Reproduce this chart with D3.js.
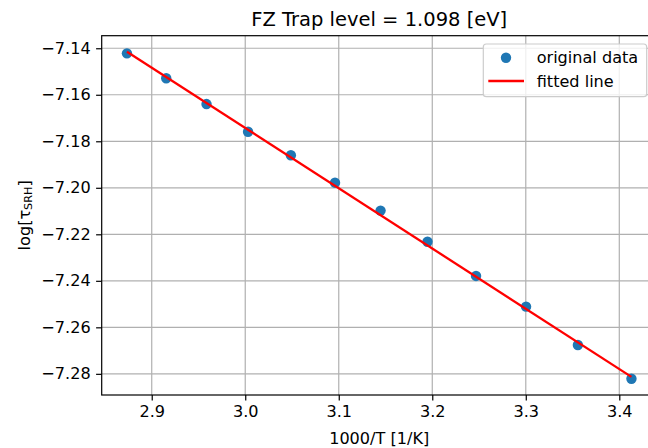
<!DOCTYPE html>
<html>
<head>
<meta charset="utf-8">
<script src="https://cdn.jsdelivr.net/npm/d3@7"></script>
<style>
  html, body { margin: 0; padding: 0; background: #fff; }
  svg { display: block; font-family: "DejaVu Sans", sans-serif; }
</style>
</head>
<body>
<svg id="chart" width="648" height="448"></svg>
<script>
// ---- data ----
const xValues = [2.8735, 2.9155, 2.9586, 3.0030, 3.0488, 3.0960, 3.1447, 3.1949, 3.2468, 3.3003, 3.3557, 3.4130];
const yValues = [-7.1422, -7.1529, -7.1640, -7.1759, -7.1860, -7.1978, -7.2098, -7.2232, -7.2379, -7.2511, -7.2676, -7.2821];
const fitX = [2.8735, 3.4130];
const fitY = [-7.1415, -7.2813];
const xTicks = [2.9, 3.0, 3.1, 3.2, 3.3, 3.4];
const xTickLabels = ["2.9", "3.0", "3.1", "3.2", "3.3", "3.4"];
const yTicks = [-7.14, -7.16, -7.18, -7.20, -7.22, -7.24, -7.26, -7.28];
const yTickLabels = ["\u22127.14", "\u22127.16", "\u22127.18", "\u22127.20", "\u22127.22", "\u22127.24", "\u22127.26", "\u22127.28"];
const titleText = "FZ Trap level = 1.098 [eV]";
const xLabel = "1000/T [1/K]";
const legendLabels = ["original data", "fitted line"];

// ---- layout ----
const L = 101.7, R = 656.7, T = 35.7, B = 395;
const FS = 16.1;
const svg = d3.select("#chart");
const x = d3.scaleLinear().domain([2.8465, 3.4400]).range([L, R]);
const y = d3.scaleLinear().domain([-7.2891, -7.1346]).range([B, T]);

const blue = "#1f77b4";
const grid = "#b0b0b0";

// grid
const gGrid = svg.append("g");
gGrid.selectAll("line.vx").data(xTicks).enter().append("line")
  .attr("x1", d => x(d)).attr("x2", d => x(d)).attr("y1", T).attr("y2", B)
  .attr("stroke", grid).attr("stroke-width", 1.2);
gGrid.selectAll("line.hy").data(yTicks).enter().append("line")
  .attr("x1", L).attr("x2", R).attr("y1", d => y(d)).attr("y2", d => y(d))
  .attr("stroke", grid).attr("stroke-width", 1.2);

// axes
const xAxis = d3.axisBottom(x).tickValues(xTicks)
  .tickFormat((d, i) => xTickLabels[i]).tickSize(5.6).tickPadding(5.4).tickSizeOuter(0);
const yAxis = d3.axisLeft(y).tickValues(yTicks)
  .tickFormat((d, i) => yTickLabels[i]).tickSize(5.6).tickPadding(5.4).tickSizeOuter(0);

const gx = svg.append("g").attr("transform", `translate(0,${B})`).call(xAxis);
const gy = svg.append("g").attr("transform", `translate(${L},0)`).call(yAxis);
[gx, gy].forEach(g => {
  g.select(".domain").remove();
  g.selectAll(".tick line").attr("stroke", "#000").attr("stroke-width", 1.2);
  g.selectAll(".tick text").attr("fill", "#000").style("font-size", FS + "px")
    .style("font-family", "DejaVu Sans, sans-serif");
});

// spines
svg.append("rect").attr("x", L).attr("y", T).attr("width", R - L).attr("height", B - T)
  .attr("fill", "none").attr("stroke", "#000").attr("stroke-width", 1.2);

// points
svg.append("g").selectAll("circle").data(xValues).enter().append("circle")
  .attr("cx", d => x(d)).attr("cy", (d, i) => y(yValues[i])).attr("r", 5.2)
  .attr("fill", blue);

// fitted line
const line = d3.line().x(d => x(d[0])).y(d => y(d[1]));
svg.append("path").datum(fitX.map((d, i) => [d, fitY[i]]))
  .attr("d", line).attr("fill", "none").attr("stroke", "#ff0000").attr("stroke-width", 2.3);

// title
svg.append("text").attr("x", (L + R) / 2).attr("y", 25.5).attr("text-anchor", "middle")
  .style("font-size", "19.5px").attr("fill", "#000").text(titleText);

// x label
svg.append("text").attr("x", (L + R) / 2).attr("y", 443.5).attr("text-anchor", "middle")
  .style("font-size", FS + "px").attr("fill", "#000").text(xLabel);

// y label
const yl = svg.append("text").attr("transform", `translate(29.5,${(T + B) / 2}) rotate(-90)`)
  .attr("text-anchor", "middle").style("font-size", FS + "px").attr("fill", "#000");
yl.append("tspan").text("log[\u03c4");
yl.append("tspan").attr("dy", 2.6).style("font-size", "11.2px").text("SRH");
yl.append("tspan").attr("dy", -2.6).text("]");

// legend
const lg = svg.append("g");
lg.append("rect").attr("x", 483.3).attr("y", 44).attr("width", 163.4).attr("height", 52.7)
  .attr("rx", 3).attr("fill", "#fff").attr("fill-opacity", 0.8)
  .attr("stroke", "#cccccc").attr("stroke-width", 1.2);
lg.append("circle").attr("cx", 506).attr("cy", 57.7).attr("r", 5.2).attr("fill", blue);
lg.append("line").attr("x1", 488.3).attr("x2", 524).attr("y1", 81).attr("y2", 81)
  .attr("stroke", "#ff0000").attr("stroke-width", 2.3);
lg.selectAll("text").data(legendLabels).enter().append("text")
  .attr("x", 536.7).attr("y", (d, i) => 57.7 + i * 23.3).attr("dy", "0.35em")
  .style("font-size", FS + "px").attr("fill", "#000").text(d => d);
</script>
</body>
</html>
